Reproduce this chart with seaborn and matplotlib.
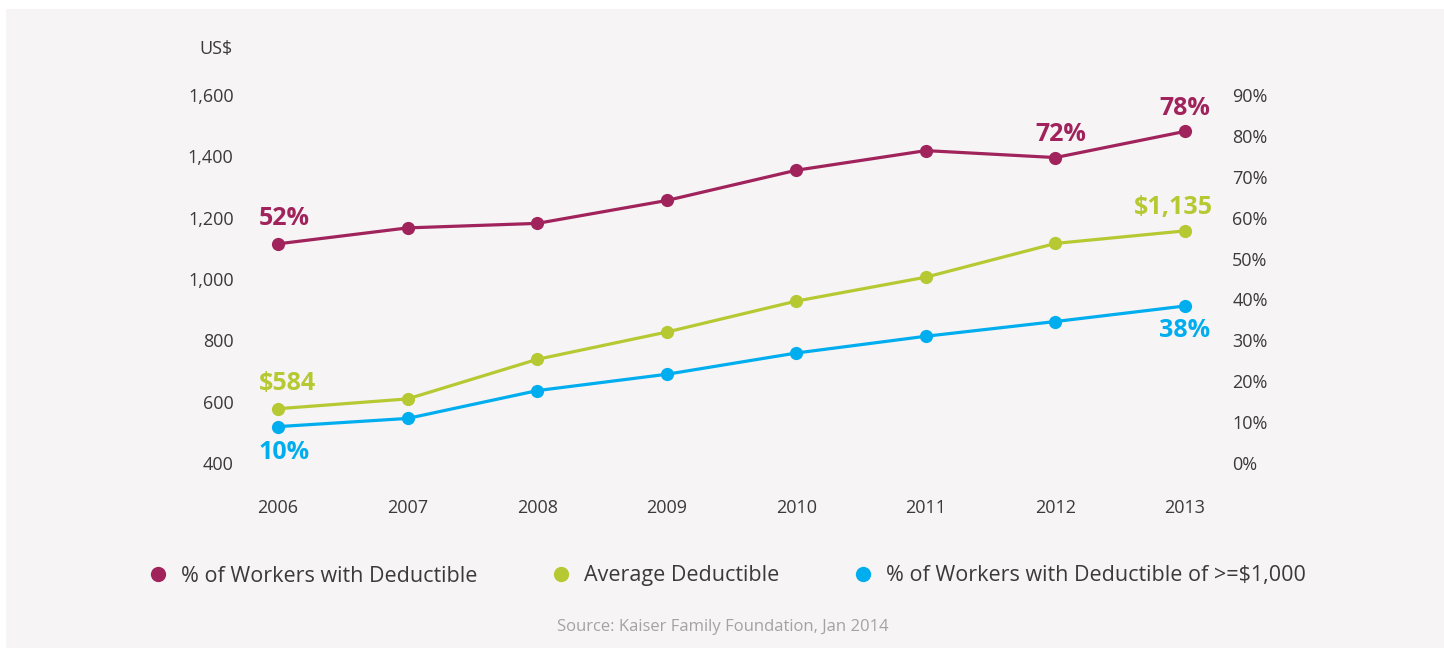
import seaborn as sns
import matplotlib.pyplot as plt
import matplotlib.patches as mpatches
from matplotlib.lines import Line2D
import pandas as pd

years = [2006, 2007, 2008, 2009, 2010, 2011, 2012, 2013]
pct_with_deductible = [53.6, 57.5, 58.6, 64.2, 71.6, 76.4, 74.7, 81.1]
avg_deductible = [577, 609, 738, 827, 928, 1006, 1116, 1157]
pct_deductible_1000 = [8.9, 10.9, 17.7, 21.7, 26.9, 31.0, 34.6, 38.4]

left_ticks = [400, 600, 800, 1000, 1200, 1400, 1600]
right_ticks = [0, 10, 20, 30, 40, 50, 60, 70, 80, 90]

series_names = ["% of Workers with Deductible", "Average Deductible",
                "% of Workers with Deductible of >=$1,000"]

purple = "#a0235c"
green = "#b6c932"
blue = "#00aeef"
text_col = "#3a3a3a"
bg = "#f6f4f5"

sns.set_style("white")
plt.rcParams['font.family'] = ['Open Sans', 'DejaVu Sans']

df = pd.DataFrame({"year": years, "pct": pct_with_deductible,
                   "avg": avg_deductible, "pct1000": pct_deductible_1000})

fig = plt.figure(figsize=(14.44, 6.48), dpi=100)
fig.patch.set_facecolor("white")
fig.patches.append(mpatches.Rectangle((6 / 1444, 0), 1, 1 - 9 / 648,
                                      transform=fig.transFigure,
                                      facecolor=bg, edgecolor="none", zorder=-10))

L, R = 278 / 1444, 1185 / 1444
B, T = 1 - 463 / 648, 1 - 95 / 648
ax = fig.add_axes([L, B, R - L, T - B])
ax2 = ax.twinx()

line_kw = dict(lw=2.3, marker="o", markersize=9.5, markeredgewidth=0, clip_on=False)
sns.lineplot(data=df, x="year", y="avg", color=green, ax=ax, **line_kw)
sns.lineplot(data=df, x="year", y="pct", color=purple, ax=ax2, **line_kw)
sns.lineplot(data=df, x="year", y="pct1000", color=blue, ax=ax2, **line_kw)

ax.set_xlim(2006, 2013)
ax.set_ylim(400, 1600)
ax2.set_ylim(0, 90)

ax.set_xticks(years)
ax.set_xticklabels([str(y) for y in years])
ax.set_yticks(left_ticks)
ax.set_yticklabels([f"{v:,}" for v in left_ticks])
ax2.set_yticks(right_ticks)
ax2.set_yticklabels([f"{v}%" for v in right_ticks])

for a in (ax, ax2):
    a.set_facecolor("none")
    for s in a.spines.values():
        s.set_visible(False)
    a.set_xlabel("")
    a.set_ylabel("")
    a.tick_params(length=0, labelsize=13, labelcolor=text_col)
ax.tick_params(axis="y", pad=32)
ax.tick_params(axis="x", pad=26)
ax2.tick_params(axis="y", pad=34)

fig.text(233 / 1444, 1 - 49 / 648, "US$", ha="right", va="center",
         fontsize=13, color=text_col)

# value callouts
lab = dict(fontsize=18, fontweight="bold", ha="center", va="center",
           textcoords="offset points")
ax2.annotate("52%", (2006, pct_with_deductible[0]), xytext=(4.3, 18),
             color=purple, **lab)
ax2.annotate("72%", (2012, pct_with_deductible[6]), xytext=(3.6, 16.6),
             color=purple, **lab)
ax2.annotate("78%", (2013, pct_with_deductible[7]), xytext=(0, 16.6),
             color=purple, **lab)
ax.annotate("$584", (2006, avg_deductible[0]), xytext=(6.5, 18),
            color=green, **lab)
ax.annotate("$1,135", (2013, avg_deductible[7]), xytext=(-8.6, 17),
            color=green, **lab)
ax2.annotate("10%", (2006, pct_deductible_1000[0]), xytext=(4.3, -18.5),
             color=blue, **lab)
ax2.annotate("38%", (2013, pct_deductible_1000[7]), xytext=(0, -18),
             color=blue, **lab)

handles = [Line2D([], [], ls="none", marker="o", markersize=11, markeredgewidth=0,
                  color=c) for c in (purple, green, blue)]
fig.legend(handles, series_names, loc="center left",
           bbox_to_anchor=(126 / 1444, 1 - 576 / 648), ncol=3, frameon=False,
           fontsize=15.5, labelcolor=text_col, handletextpad=0.45,
           columnspacing=3.3, handlelength=1.2)

fig.text(723 / 1444, 1 - 627 / 648, "Source: Kaiser Family Foundation, Jan 2014",
         ha="center", va="center", fontsize=12, color="#a3a3a3")

fig.savefig("out.png", dpi=100, facecolor=fig.get_facecolor())
